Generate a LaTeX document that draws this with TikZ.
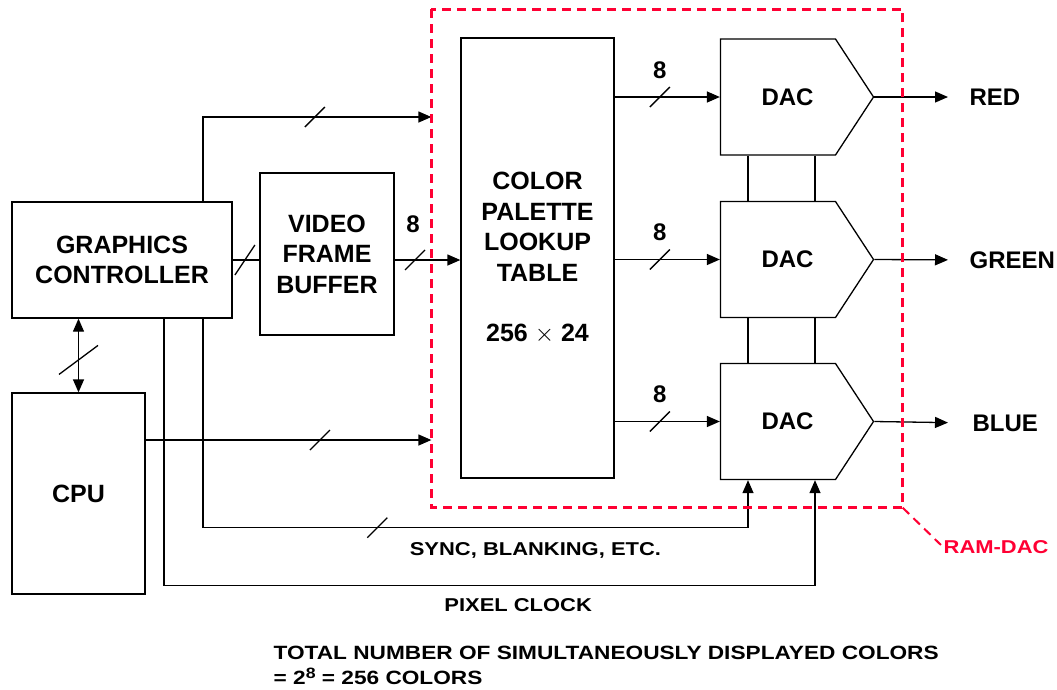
\documentclass[tikz,border=0pt]{standalone}
\usepackage{fontspec}
\setmainfont{Liberation Sans}
\newfontfamily\widefont[FakeStretch=1.18]{Liberation Sans}
\usetikzlibrary{arrows.meta,shapes.symbols,calc}
\definecolor{RamRed}{HTML}{FF0033}

\begin{document}
\begin{tikzpicture}[x=1pt,y=-1pt,>={Triangle[length=13pt,width=11pt]},line width=1.3pt,
    box/.style={draw,rectangle,inner sep=0pt,align=center,font=\fontsize{25}{30.5}\selectfont\bfseries},
    dac/.style={draw,signal,signal to=east,signal pointer angle=113.5,minimum width=153pt,
      minimum height=116pt,inner sep=0pt,font=\fontsize{24}{28}\selectfont\bfseries,
      execute at begin node=\hspace*{19pt}},
    bits/.style={font=\fontsize{24}{28}\selectfont\bfseries,inner sep=0pt,anchor=south},
    outlbl/.style={font=\fontsize{24}{28}\selectfont\bfseries,inner sep=0pt,anchor=west},
    note/.style={font=\widefont\fontsize{18.6}{25}\selectfont\bfseries,inner sep=0pt},
    ramdash/.style={draw=RamRed,line width=3pt,dash pattern=on 9pt off 6pt},
    bus/.pic={\draw[-] (-10pt,-10pt) -- (10pt,10pt);}]
    \useasboundingbox (0,0) rectangle (1057,689);
    \node[box,minimum width=220pt,minimum height=116pt] (gc) at (122,260) {GRAPHICS\\CONTROLLER};
    \node[box,minimum width=134pt,minimum height=162pt] (vfb) at (327,254) {VIDEO\\FRAME\\BUFFER};
    \node[box,minimum width=133pt,minimum height=201pt] (cpu) at (78.5,493.5) {CPU};
    \node[box,minimum width=153pt,minimum height=440pt] (clut) at (537.5,258)
      {COLOR\\PALETTE\\LOOKUP\\TABLE\\[30pt]256 $\times$ 24};
    \node[dac] (dac1) at (778,97) {DAC};
    \node[dac] (dac2) at (778,259.5) {DAC};
    \node[dac] (dac3) at (778,421.5) {DAC};
    \node[minimum width=470pt,minimum height=497pt,inner sep=0pt] (ramdac) at (667,258.5) {};
    \node[outlbl] (red) at (969,97) {RED};
    \node[outlbl] (green) at (969,260) {GREEN};
    \node[outlbl] (blue) at (972,423) {BLUE};
    \node[note,text=RamRed,anchor=west] (ramlbl) at (943,547) {RAM-DAC};
    \node[note,anchor=north west,align=left,font=\widefont\fontsize{19.2}{25}\selectfont\bfseries]
      (total) at (273,645.5)
      {TOTAL NUMBER OF SIMULTANEOUSLY DISPLAYED COLORS\\
       = 2\raisebox{6pt}{\fontsize{15}{15}\selectfont 8} = 256 COLORS};

    % buses into the palette and the RAM-DAC
    \draw (gc.east) -- pic[pos=.46,yscale=1.5]{bus} (vfb.west |- gc.east);
    \draw[->] (vfb.east |- gc.east) -- pic[pos=.31]{bus}
      node[bits,pos=.28,yshift=27pt] (n0) {8} (clut.west |- gc.east);
    \draw[->] ([xshift=81pt]gc.north) |- pic[pos=.745]{bus} ([yshift=141.5pt]ramdac.west);
    \draw[->] ([yshift=53.5pt]cpu.east) -- pic[pos=.61]{bus} ([yshift=53.5pt]cpu.east -| ramdac.west);
    \draw[<->] (cpu.north) -- pic[pos=.44,xscale=1.95,yscale=1.45]{bus} (cpu.north |- gc.south);
    \foreach \d in {dac1,dac2,dac3}
      \draw[->] (clut.east |- \d.west) -- pic[pos=.43]{bus}
        node[bits,pos=.43,yshift=18pt] (n\d) {8} (\d.west);

    % timing lines
    \draw[->] ([xshift=81pt]gc.south) -- ++(0,209) -| pic[pos=.16]{bus}
      node[note,pos=.305,anchor=north,yshift=-14pt] (sync) {SYNC, BLANKING, ETC.}
      ([xshift=-30pt]dac3.south);
    \draw[->] ([xshift=42pt]gc.south) -- ++(0,267) -|
      node[note,pos=.272,anchor=north,yshift=-12pt] (pclk) {PIXEL CLOCK}
      ([xshift=37pt]dac3.south);
    \foreach \x in {-30,37}{
      \draw ([xshift=\x pt]dac1.south) -- ([xshift=\x pt]dac2.north);
      \draw ([xshift=\x pt]dac2.south) -- ([xshift=\x pt]dac3.north);}

    % outputs
    \foreach \d/\o/\s in {dac1/red/21,dac2/green/21,dac3/blue/24}
      \draw[->,shorten >=\s pt] (\d.east) -- (\o.west);

    \draw[ramdash] (ramdac.north west) rectangle (ramdac.south east);
    \draw[ramdash,line width=2pt,shorten >=3pt] (ramdac.south east) -- (ramlbl.west);
  \end{tikzpicture}
\end{document}
